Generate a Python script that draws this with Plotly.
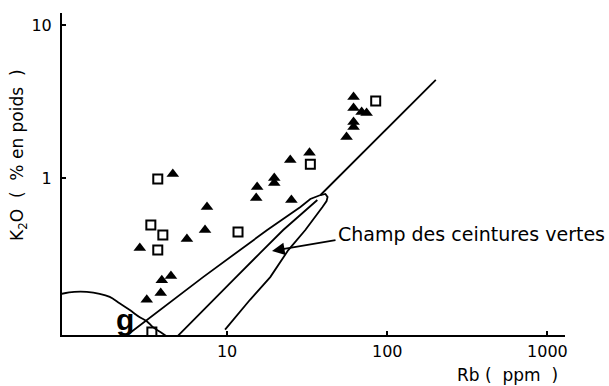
import plotly.graph_objects as go

# --- Data (Rb ppm, K2O wt%) ---
tri_rb = [4.58, 7.49, 7.28, 5.61, 2.85, 3.91, 4.46, 3.85, 3.15, 15.4, 15.2, 19.7, 19.7,
          24.8, 25.2, 32.7, 55.7, 61.6, 61.6, 69.2, 74.3, 61.6, 61.6]
tri_k2o = [1.06, 0.646, 0.457, 0.399, 0.349, 0.215, 0.229, 0.177, 0.160, 0.873, 0.740, 1.00, 0.928,
           1.31, 0.718, 1.46, 1.85, 3.38, 2.87, 2.70, 2.66, 2.32, 2.15]

sq_rb = [3.69, 3.34, 3.97, 3.69, 11.7, 33.1, 84.7, 3.39]
sq_k2o = [0.985, 0.493, 0.424, 0.338, 0.444, 1.23, 3.19, 0.0985]

# greenstone-belt field: upper edge, rounded tip, lower edge
field_rb = [2.47, 7.08, 17.8, 28.7, 33.1, 38.3, 41.1, 42.4, 41.8, 39.4, 30.8, 24.1, 18.6, 13.9, 9.71]
field_k2o = [0.097, 0.225, 0.457, 0.646, 0.729, 0.774, 0.786, 0.751, 0.707, 0.646, 0.457, 0.338,
             0.225, 0.160, 0.102]
# inner line of the field
inner_rb = [4.93, 7.08, 10.9, 16.1, 22.4, 36.6]
inner_k2o = [0.093, 0.137, 0.215, 0.324, 0.457, 0.718]
# long straight line
long_rb = [38.3, 201]
long_k2o = [0.774, 4.37]
# curve "g"
g_rb = [0.925, 1.11, 1.33, 1.60, 1.85, 2.13, 2.47, 2.85, 3.15, 3.44, 3.91, 4.15]
g_k2o = [0.175, 0.180, 0.180, 0.175, 0.167, 0.152, 0.137, 0.123, 0.116, 0.106, 0.097, 0.093]

x_ticks = [10, 100, 1000]
x_ticktext = ["10", "100", "1000"]
y_ticks = [1, 10]
y_ticktext = ["1", "10"]

FONT = "DejaVu Sans"
line_style = dict(color="black", width=1.8)

fig = go.Figure()
fig.add_trace(go.Scatter(x=g_rb, y=g_k2o, mode="lines", line=dict(shape="spline", **line_style)))
fig.add_trace(go.Scatter(x=field_rb, y=field_k2o, mode="lines", line=line_style))
fig.add_trace(go.Scatter(x=inner_rb, y=inner_k2o, mode="lines", line=line_style))
fig.add_trace(go.Scatter(x=long_rb, y=long_k2o, mode="lines", line=line_style))
fig.add_trace(go.Scatter(x=tri_rb, y=tri_k2o, mode="markers",
                         marker=dict(symbol="triangle-up", size=11, color="black")))
fig.add_trace(go.Scatter(x=sq_rb, y=sq_k2o, mode="markers",
                         marker=dict(symbol="square-open", size=9, color="black", line=dict(width=2))))

axis_common = dict(showline=True, linecolor="black", linewidth=2, showgrid=False, zeroline=False,
                   ticks="inside", ticklen=4, tickwidth=2, tickcolor="black",
                   tickfont=dict(family=FONT, size=16, color="black"))
fig.update_xaxes(type="log", range=[-0.031, 3.11], tickvals=x_ticks, ticktext=x_ticktext,
                 ticklabelstandoff=1, **axis_common)
fig.update_yaxes(type="log", range=[-1.026, 1.078], tickvals=y_ticks, ticktext=y_ticktext,
                 ticklabelstandoff=5, **axis_common)

fig.update_layout(
    width=609, height=386, showlegend=False,
    margin=dict(l=62, r=44, t=13, b=51),
    plot_bgcolor="white", paper_bgcolor="white",
    font=dict(family=FONT, color="black"),
    annotations=[
        dict(text="K<sub>2</sub>O  (  % en poids  )", xref="paper", yref="paper", x=-0.0875, y=0.559,
             xanchor="center", yanchor="middle", textangle=-90, showarrow=False, font=dict(size=17)),
        dict(text="Rb (  ppm  )", xref="paper", yref="paper", x=0.885, y=-0.124,
             xanchor="center", yanchor="middle", showarrow=False, font=dict(size=17)),
        dict(text="Champ des ceintures vertes", xref="paper", yref="paper", x=0.545, y=0.314,
             xanchor="left", yanchor="middle", showarrow=False, font=dict(size=19)),
        dict(text="", xref="paper", yref="paper", x=0.4175, y=0.261, ax=65, ay=-11,
             showarrow=True, arrowhead=2, arrowsize=1.4, arrowwidth=1.8, arrowcolor="black"),
        dict(text="<b>g</b>", xref="paper", yref="paper", x=0.125, y=0.047,
             xanchor="center", yanchor="middle", showarrow=False,
             font=dict(family="Liberation Sans Narrow, Liberation Sans", size=30)),
    ],
)

fig.write_html("out.html")
